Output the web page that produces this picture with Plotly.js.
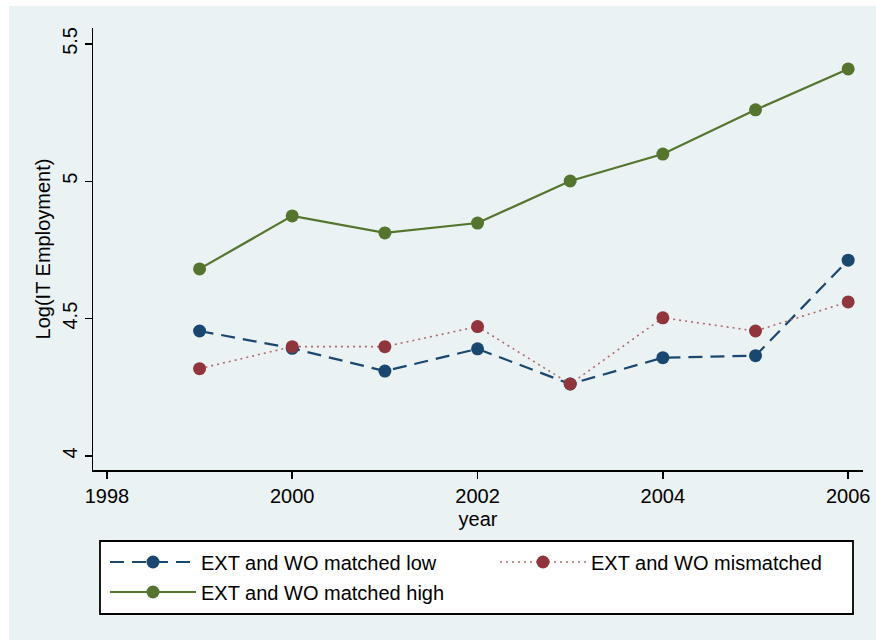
<!DOCTYPE html>
<html>
<head>
<meta charset="utf-8">
<script src="https://cdn.plot.ly/plotly-3.0.1.min.js"></script>
<style>html,body{margin:0;padding:0;background:#fff;}#chart{width:876px;height:640px;}</style>
</head>
<body>
<div id="chart"></div>
<script>
const years = [1999, 2000, 2001, 2002, 2003, 2004, 2005, 2006];
const matchedLow = [4.455, 4.392, 4.309, 4.390, 4.262, 4.358, 4.365, 4.713];
const mismatched = [4.318, 4.398, 4.398, 4.471, 4.262, 4.503, 4.455, 4.561];
const matchedHigh = [4.681, 4.874, 4.812, 4.848, 5.001, 5.099, 5.260, 5.409];
const xTicks = [1998, 2000, 2002, 2004, 2006];
const yTicks = [4, 4.5, 5, 5.5];
const yTickText = ['4', '4.5', '5', '5.5'];

const FONT = 'Liberation Sans, Arial, Helvetica, sans-serif';
const FS = 20;

const traces = [
  {x: years, y: matchedLow, name: 'EXT and WO matched low', mode: 'lines+markers',
   legend: 'legend',
   line: {color: '#1a476f', width: 2.2, dash: '14px,8px'},
   marker: {color: '#1a476f', size: 13}},
  {x: years, y: mismatched, name: 'EXT and WO mismatched', mode: 'lines+markers',
   legend: 'legend2',
   line: {color: '#b0686d', width: 1.6, dash: '2px,4px'},
   marker: {color: '#90353b', size: 13}},
  {x: years, y: matchedHigh, name: 'EXT and WO matched high', mode: 'lines+markers',
   legend: 'legend3',
   line: {color: '#55752f', width: 2.2},
   marker: {color: '#55752f', size: 13}}
];

function leg(x, y) {
  return {
    x: x, xanchor: 'left', y: y, yanchor: 'middle',
    bgcolor: 'rgba(0,0,0,0)', borderwidth: 0,
    font: {family: FONT, size: FS, color: '#000'},
    itemwidth: 86
  };
}

const layout = {
  width: 876, height: 640,
  margin: {l: 93, r: 13, t: 28, b: 170, autoexpand: false},
  paper_bgcolor: '#ffffff',
  plot_bgcolor: '#ffffff',
  font: {family: FONT, size: FS, color: '#000'},
  showlegend: true,
  xaxis: {
    range: [1997.85, 2006.16],
    tickvals: xTicks, ticktext: xTicks.map(String),
    showgrid: false, zeroline: false,
    showline: true, linecolor: '#000', linewidth: 1.5,
    ticks: 'outside', ticklen: 7, tickwidth: 1.5, tickcolor: '#000',
    tickfont: {family: FONT, size: FS},
    title: {text: 'year', font: {family: FONT, size: FS}, standoff: 6}
  },
  yaxis: {
    range: [3.949, 5.558],
    tickvals: yTicks, ticktext: yTickText,
    tickangle: -90,
    showgrid: true, gridcolor: '#eaf2f3', gridwidth: 2,
    zeroline: false,
    showline: true, linecolor: '#000', linewidth: 1.5,
    ticks: 'outside', ticklen: 7, tickwidth: 1.5, tickcolor: '#000',
    tickfont: {family: FONT, size: FS},
    title: {text: 'Log(IT Employment)', font: {family: FONT, size: FS}, standoff: 2}
  },
  legend: leg(0.0156, -0.2081),
  legend2: leg(0.5221, -0.2081),
  legend3: leg(0.0156, -0.2760),
  shapes: [
    {type: 'rect', xref: 'paper', yref: 'paper', layer: 'below',
     x0: -0.1091, x1: 1.0169, y0: -0.3846, y1: 1.0498,
     fillcolor: '#eaf2f3', line: {width: 0}},
    {type: 'rect', xref: 'paper', yref: 'paper', layer: 'below',
     x0: 0.00909, x1: 0.98701, y0: -0.3258, y1: -0.1606,
     fillcolor: '#ffffff', line: {color: '#000', width: 1.8}}
  ]
};

Plotly.newPlot('chart', traces, layout, {displayModeBar: false, staticPlot: true});
</script>
</body>
</html>
